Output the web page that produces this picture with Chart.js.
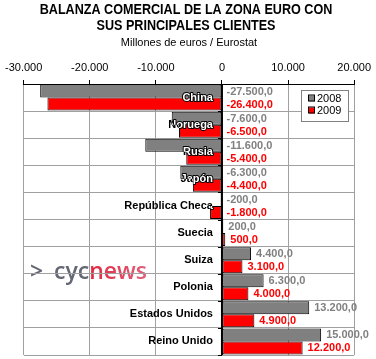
<!DOCTYPE html>
<html><head><meta charset="utf-8">
<script src="https://cdn.jsdelivr.net/npm/chart.js@4/dist/chart.umd.min.js"></script>
<style>html,body{margin:0;padding:0;background:#fff}#wrap{width:376px;height:359px;position:relative}</style>
</head><body><div id="wrap"><canvas id="c" width="376" height="359"></canvas></div>
<script>
const titleLines = ["BALANZA COMERCIAL DE LA ZONA EURO CON", "SUS PRINCIPALES CLIENTES"];
const subtitleText = "Millones de euros / Eurostat";
const categories = ["China", "Noruega", "Rusia", "Japón", "República Checa", "Suecia", "Suiza", "Polonia", "Estados Unidos", "Reino Unido"];
const seriesNames = ["2008", "2009"];
const values2008 = [-27500, -7600, -11600, -6300, -200, 200, 4400, 6300, 13200, 15000];
const values2009 = [-26400, -6500, -5400, -4400, -1800, 500, 3100, 4000, 4900, 12200];
const xTicks = [-30000, -20000, -10000, 0, 10000, 20000];
const watermarkParts = [">", "cyc", "news"];

const FONT = '"Liberation Sans", Arial, sans-serif';
const seriesColors = ["#808080", "#ff0000"];
const labelColors = ["#808080", "#ff0000"];

function fmtThousands(v) {
  const s = Math.abs(Math.trunc(v)).toString().replace(/\B(?=(\d{3})+(?!\d))/g, ".");
  return (v < 0 ? "-" : "") + s;
}
function fmtValue(v) {
  const d = Math.round(Math.abs(v) * 10) % 10;
  return fmtThousands(v) + "," + d;
}

const decorPlugin = {
  id: "decor",
  beforeDraw(chart) {
    const ctx = chart.ctx;
    ctx.save();
    ctx.fillStyle = "#fff";
    ctx.fillRect(0, 0, chart.width, chart.height);
    // watermark
    ctx.textBaseline = "alphabetic";
    ctx.textAlign = "left";
    ctx.font = '600 23px "Open Sans", sans-serif';
    ctx.fillStyle = "#646774";
    ctx.fillText(watermarkParts[0], 30, 279);
    ctx.fillText(watermarkParts[1], 54, 279);
    const w = ctx.measureText(watermarkParts[1]).width;
    const g = ctx.createLinearGradient(54 + w, 0, 146, 0);
    g.addColorStop(0, "#e0283f");
    g.addColorStop(1, "#e0607a");
    ctx.fillStyle = g;
    ctx.fillText(watermarkParts[2], 54 + w, 279);
    ctx.restore();
  },
  afterDraw(chart) {
    const ctx = chart.ctx;
    const xs = chart.scales.x, ys = chart.scales.y;
    const area = chart.chartArea;
    ctx.save();
    // Titles
    ctx.fillStyle = "#000";
    ctx.textAlign = "center";
    ctx.textBaseline = "alphabetic";
    ctx.font = "bold 14px " + FONT;
    ctx.save();
    ctx.translate(186, 0);
    ctx.scale(0.9, 1);
    ctx.fillText(titleLines[0], 0, 14);
    ctx.fillText(titleLines[1], 0, 30);
    ctx.restore();
    ctx.font = "11px " + FONT;
    ctx.fillText(subtitleText, 189, 46);

    // Zero line
    const x0 = xs.getPixelForValue(0);
    ctx.strokeStyle = "#000";
    ctx.lineWidth = 2;
    ctx.beginPath();
    ctx.moveTo(x0, area.top);
    ctx.lineTo(x0, area.bottom);
    ctx.stroke();
    ctx.lineWidth = 1;
    const step = (area.bottom - area.top) / categories.length;
    ctx.beginPath();
    for (let i = 0; i <= categories.length; i++) {
      const yy = Math.round(area.top + i * step) + 0.5;
      ctx.moveTo(x0 - 4, yy);
      ctx.lineTo(x0, yy);
    }
    ctx.stroke();

    // Category labels
    ctx.font = "bold 11px " + FONT;
    ctx.textAlign = "right";
    ctx.textBaseline = "middle";
    const metas = [chart.getDatasetMeta(0), chart.getDatasetMeta(1)];
    categories.forEach((cat, i) => {
      const y = ys.getPixelForValue(i);
      const x = x0 - 9;
      ctx.fillStyle = "#000";
      ctx.fillText(cat, x, y);
      ctx.save();
      ctx.beginPath();
      metas.forEach(m => {
        const el = m.data[i];
        const l = Math.min(el.x, el.base), r = Math.max(el.x, el.base);
        ctx.rect(l, el.y - el.height / 2, r - l, el.height);
      });
      ctx.clip();
      ctx.strokeStyle = "#000";
      ctx.lineWidth = 2;
      ctx.lineJoin = "round";
      ctx.strokeText(cat, x, y);
      ctx.fillStyle = "#fff";
      ctx.fillText(cat, x, y);
      ctx.restore();
    });

    // Value labels
    ctx.textAlign = "left";
    ctx.textBaseline = "middle";
    ctx.font = "bold 11px " + FONT;
    metas.forEach((m, di) => {
      const data = chart.data.datasets[di].data;
      ctx.fillStyle = labelColors[di];
      m.data.forEach((el, i) => {
        const r = Math.max(el.x, el.base);
        ctx.fillText(fmtValue(data[i]), r + 5, el.y + 0.5);
      });
    });

    // Legend
    const lx = 301.5, ly = 90.5, lw = 47, lh = 31;
    ctx.fillStyle = "#fff";
    ctx.fillRect(lx, ly, lw, lh);
    ctx.strokeStyle = "#808080";
    ctx.lineWidth = 1;
    ctx.strokeRect(lx, ly, lw, lh);
    ctx.font = "11px " + FONT;
    ctx.textAlign = "left";
    ctx.textBaseline = "middle";
    chart.data.datasets.forEach((ds, di) => {
      const cy = 98.5 + di * 12;
      ctx.fillStyle = ds.backgroundColor;
      ctx.fillRect(309, cy - 3, 6, 6);
      ctx.strokeStyle = "#000";
      ctx.strokeRect(308.5, cy - 3.5, 6, 6);
      ctx.fillStyle = "#000";
      ctx.fillText(ds.label, 317, cy + 0.5);
    });
    ctx.restore();
  }
};

new Chart(document.getElementById("c"), {
  type: "bar",
  data: {
    labels: categories,
    datasets: [
      { label: seriesNames[0], data: values2008, backgroundColor: seriesColors[0], borderColor: "#000", borderWidth: 1, borderSkipped: false, categoryPercentage: 0.96, barPercentage: 1 },
      { label: seriesNames[1], data: values2009, backgroundColor: seriesColors[1], borderColor: "#000", borderWidth: 1, borderSkipped: false, categoryPercentage: 0.96, barPercentage: 1 }
    ]
  },
  options: {
    indexAxis: "y",
    responsive: false,
    devicePixelRatio: 1,
    animation: false,
    layout: { padding: { left: 21, right: 18, top: 60, bottom: 4 } },
    plugins: { legend: { display: false }, tooltip: { enabled: false }, title: { display: false } },
    scales: {
      x: {
        position: "top",
        min: -30000, max: 20000,
        afterBuildTicks: s => { s.ticks = xTicks.map(v => ({ value: v })); },
        afterFit: s => { s.height = 24; },
        ticks: { color: "#000", font: { family: FONT, size: 11 }, padding: 5, maxRotation: 0, callback: v => fmtThousands(v) },
        grid: { color: "#a0a0a0", tickColor: "#000", tickLength: 4, drawTicks: true },
        border: { display: true, color: "#000", width: 1 }
      },
      y: {
        afterFit: s => { s.width = 0; },
        ticks: { display: false },
        grid: { color: "#a0a0a0", drawTicks: false, offset: true },
        border: { display: false }
      }
    }
  },
  plugins: [decorPlugin]
});
</script>
</body></html>
